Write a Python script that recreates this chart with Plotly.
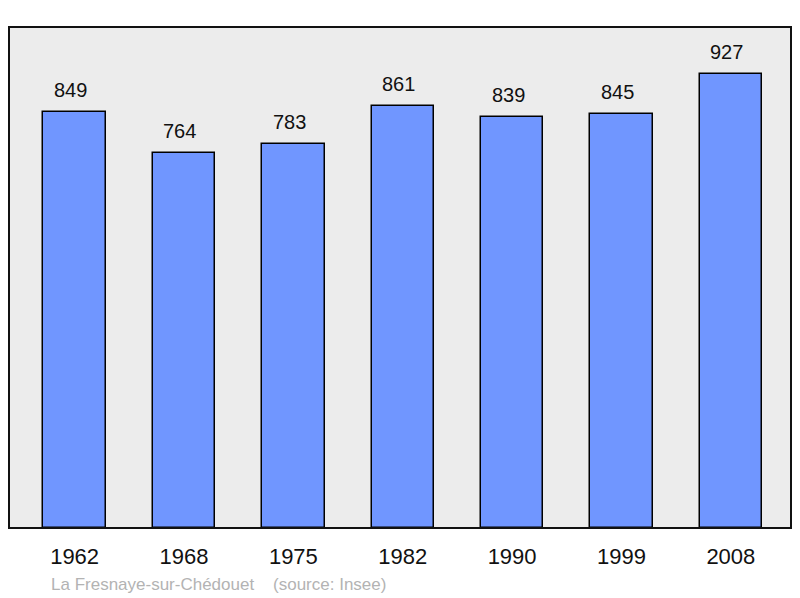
import plotly.graph_objects as go

years = ["1962", "1968", "1975", "1982", "1990", "1999", "2008"]
population = [849, 764, 783, 861, 839, 845, 927]

BAR_COLOR = "#7096ff"
FONT = "Liberation Sans, Arial, sans-serif"

pos = list(range(len(years)))

fig = go.Figure()
fig.add_trace(go.Bar(
    x=pos,
    y=population,
    width=0.57,
    marker=dict(color=BAR_COLOR, line=dict(color="#000000", width=1.5)),
    hoverinfo="skip",
))

# valeurs au-dessus des barres
for i, v in zip(pos, population):
    fig.add_annotation(
        x=i, y=v, text=str(v), showarrow=False,
        yanchor="bottom", yshift=9, xshift=-4,
        font=dict(family=FONT, size=20, color="#111111"),
    )

# cadre du graphique
fig.add_shape(
    type="rect", xref="paper", yref="paper", x0=0, y0=0, x1=1, y1=1,
    line=dict(color="#111111", width=2), layer="above",
)

fig.add_annotation(
    xref="paper", yref="paper", x=(49 - 9) / 782, y=-0.112,
    xanchor="left", yanchor="middle", showarrow=False,
    text="La Fresnaye-sur-Chédouet&nbsp;&nbsp;&nbsp;&nbsp;(source: Insee)",
    font=dict(family=FONT, size=17, color="#b3b3b3"),
)

# la page ajoute 8px de marge autour de la figure
fig.update_layout(
    width=784, height=590,
    margin=dict(l=1, r=1, t=19, b=70),
    paper_bgcolor="#ffffff",
    plot_bgcolor="#ececec",
    showlegend=False,
    bargap=0,
    xaxis=dict(
        range=[-0.6, 6.55],
        tickmode="array", tickvals=pos, ticktext=years,
        tickfont=dict(family=FONT, size=22, color="#111111"),
        ticklabelstandoff=13,
        showgrid=False, zeroline=False, ticks="",
        fixedrange=True,
    ),
    yaxis=dict(
        range=[0, 1022],
        showticklabels=False, showgrid=False, zeroline=False,
        fixedrange=True,
    ),
)

fig.write_html("out.html")
